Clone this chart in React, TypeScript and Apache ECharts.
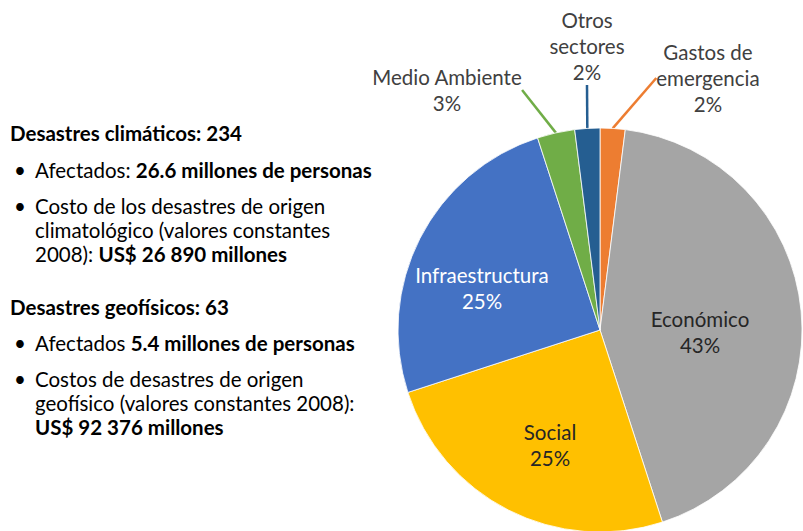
import React, { useEffect, useRef } from "react";
import * as echarts from "echarts";

const sectors = ["Gastos de\nemergencia", "Económico", "Social", "Infraestructura", "Medio Ambiente", "Otros\nsectores"];
const shares = [2, 43, 25, 25, 3, 2];
const sliceColors = ["#ED7D31", "#A5A5A5", "#FFC000", "#4472C4", "#70AD47", "#255E91"];
const labelColors = ["#404040", "#262626", "#262626", "#ffffff", "#404040", "#404040"];
const labelPositions: [number, number][] = [
  [708, 78],
  [700, 332],
  [550, 445],
  [482, 288],
  [447, 90],
  [587, 46],
];

const FONT = "Lato, 'Noto Sans', sans-serif";
const FS = 20.5;

export default function App() {
  const ref = useRef<HTMLDivElement>(null);
  useEffect(() => {
    if (!ref.current) return;
    const chart = echarts.init(ref.current, undefined, { renderer: "svg" });
    const textBase = { fontFamily: FONT, fontSize: FS, fill: "#000" };
    const rich = {
      n: { fontFamily: FONT, fontSize: FS, fontWeight: "normal", fill: "#000" },
      b: { fontFamily: FONT, fontSize: FS, fontWeight: "bold", fill: "#000" },
    };
    const t = (x: number, y: number, text: string, extra: any = {}) => ({
      type: "text",
      x,
      y,
      style: { ...textBase, text, verticalAlign: "middle", rich, ...extra },
    });
    chart.setOption({
      animation: false,
      backgroundColor: "#ffffff",
      graphic: [
        t(10, 133, "Desastres climáticos: 234", { fontWeight: "bold" }),
        t(14, 170, "•"),
        t(35, 170, "{n|Afectados: }{b|26.6 millones de personas}"),
        t(14, 206, "•"),
        t(35, 206, "Costo de los desastres de origen"),
        t(35, 230, "climatológico (valores constantes"),
        t(35, 254, "{n|2008): }{b|US$ 26 890 millones}"),
        t(10, 307, "Desastres geofísicos: 63", { fontWeight: "bold" }),
        t(14, 343, "•"),
        t(35, 343, "{n|Afectados }{b|5.4 millones de personas}"),
        t(14, 379, "•"),
        t(35, 379, "Costos de desastres de origen"),
        t(35, 403, "geofísico (valores constantes 2008):"),
        t(35, 427, "US$ 92 376 millones", { fontWeight: "bold" }),
      ],
      series: [
        {
          type: "pie",
          center: [600, 330],
          radius: 202,
          startAngle: 90,
          clockwise: true,
          avoidLabelOverlap: false,
          itemStyle: { borderColor: "#ffffff", borderWidth: 0.8 },
          label: {
            show: true,
            formatter: (p: any) => `${p.name}\n${p.value}%`,
            fontFamily: FONT,
            fontSize: FS,
            lineHeight: 26,
            align: "center",
          },
          labelLine: { show: true, length: 20, length2: 0, lineStyle: { width: 2.5 } },
          labelLayout: (p: any) => {
            const pos = labelPositions[p.dataIndex];
            return { x: pos[0], y: pos[1], align: "center", verticalAlign: "middle" };
          },
          data: sectors.map((name, i) => {
            const small = shares[i] < 10;
            return {
              name,
              value: shares[i],
              itemStyle: { color: sliceColors[i] },
              label: {
                position: small ? "outside" : "inside",
                color: labelColors[i],
              },
              labelLine: { show: small, lineStyle: { color: sliceColors[i], width: 2.5 } },
            };
          }),
        },
      ],
    });
    return () => chart.dispose();
  }, []);
  return (
    <div
      ref={ref}
      style={{ position: "absolute", left: 0, top: 0, width: 803, height: 531 }}
    />
  );
}
